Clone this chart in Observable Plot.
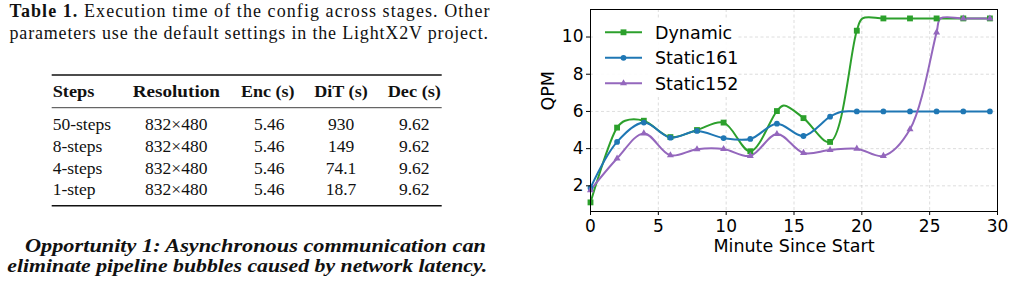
<!DOCTYPE html>
<html>
<head>
<meta charset="utf-8">
<script src="https://cdn.jsdelivr.net/npm/d3@7"></script>
<script src="https://cdn.jsdelivr.net/npm/@observablehq/plot@0.6"></script>
<style>
  html, body { margin: 0; padding: 0; background: #fff; }
  body { width: 1014px; height: 289px; position: relative; overflow: hidden; }
  #left { position: absolute; left: 0; top: 0; }
  #chart { position: absolute; left: 520px; top: 0; }
  #legend { position: absolute; left: 520px; top: 0; pointer-events: none; }
</style>
</head>
<body>
<div id="left"></div>
<div id="chart"></div>
<div id="legend"></div>
<script>
// ---- Table 1 text ----
const captionTitle = "Table 1.";
const captionLines = [
  "Execution time of the config across stages. Other",
  "parameters use the default settings in the LightX2V project."
];
const tableHeader = ["Steps", "Resolution", "Enc (s)", "DiT (s)", "Dec (s)"];
const stepsCol = ["50-steps", "8-steps", "4-steps", "1-step"];
const resolutionCol = ["832×480", "832×480", "832×480", "832×480"];
const encCol = ["5.46", "5.46", "5.46", "5.46"];
const ditCol = ["930", "149", "74.1", "18.7"];
const decCol = ["9.62", "9.62", "9.62", "9.62"];
const opportunityLines = [
  "Opportunity 1: Asynchronous communication can",
  "eliminate pipeline bubbles caused by network latency."
];

// ---- QPM over time (sampled minutes, one marker each) ----
const minutes = [0, 1.96, 3.93, 5.89, 7.85, 9.81, 11.78, 13.74, 15.70, 17.66, 19.63, 21.59, 23.55, 25.51, 27.48, 29.44];
const seriesNames = ["Dynamic", "Static161", "Static152"];
const seriesColors = ["#2ca02c", "#1f77b4", "#9467bd"];
const seriesSymbols = ["square", "circle", "triangle"];
const dynamicQPM   = [1.11, 5.13, 5.5, 4.62, 5.0, 5.4, 3.86, 6.02, 5.64, 4.36, 10.34, 11, 11, 11, 11, 11];
const static161QPM = [1.89, 4.36, 5.4, 4.59, 4.95, 4.57, 4.52, 5.34, 4.68, 5.72, 6, 6, 6, 6, 6, 6];
const static152QPM = [1.77, 3.47, 4.82, 3.64, 3.97, 3.98, 3.61, 4.79, 3.77, 3.93, 4.0, 3.61, 5.04, 10.25, 11, 11];
// extra unmarked readings along each trace: [minute, QPM]
const dynamicKnots   = [[2.55, 5.5], [14.25, 6.32], [20.05, 11]];
const static161Knots = [[18.5, 5.98]];
const static152Knots = [[25.8, 11]];

const xTicks = [0, 5, 10, 15, 20, 25, 30];
const yTicks = [2, 4, 6, 8, 10];
const xLabel = "Minute Since Start";
const yLabel = "QPM";

// ---------- left column: caption, table, paragraph ----------
const serif = "'Liberation Serif', 'DejaVu Serif', serif";
const left = d3.select("#left").append("svg")
  .attr("width", 520).attr("height", 289)
  .style("font-family", serif).style("fill", "#111");

// caption (justified lines)
const capY = [16.5, 39.3];
const cap0 = left.append("text").attr("x", 9.5).attr("y", capY[0])
  .attr("font-size", 18).attr("textLength", 480).attr("lengthAdjust", "spacing");
cap0.append("tspan").attr("font-weight", "bold").text(captionTitle);
cap0.append("tspan").text(" " + captionLines[0]);
left.append("text").attr("x", 9.5).attr("y", capY[1])
  .attr("font-size", 18).attr("textLength", 478.5).attr("lengthAdjust", "spacing")
  .text(captionLines[1]);

// booktabs-style rules
const ruleX0 = 51.7, ruleX1 = 441.7;
[[75, 1.4], [107.7, 0.8], [205.7, 1.4]].forEach(([y, w]) => {
  left.append("line").attr("x1", ruleX0).attr("x2", ruleX1)
    .attr("y1", y).attr("y2", y).attr("stroke", "#111").attr("stroke-width", w);
});

const colX = [52.7, 176.3, 267.8, 341, 414.3];
const colAnchor = ["start", "middle", "middle", "middle", "middle"];
const headerWidths = [41.7, 87.3, 53.6, 53.4, 53.3];
tableHeader.forEach((h, j) => {
  left.append("text").attr("x", colX[j]).attr("y", 97.3)
    .attr("text-anchor", colAnchor[j]).attr("font-weight", "bold")
    .attr("font-size", 17.5).attr("textLength", headerWidths[j])
    .attr("lengthAdjust", "spacingAndGlyphs").text(h);
});
const rowY = [130, 152, 173.7, 195.3];
const columns = [stepsCol, resolutionCol, encCol, ditCol, decCol];
rowY.forEach((y, i) => {
  columns.forEach((col, j) => {
    left.append("text").attr("x", colX[j] + (j === 2 ? 1.5 : 0)).attr("y", y)
      .attr("text-anchor", colAnchor[j]).attr("font-size", 17.5).text(col[i]);
  });
});

// emphasised paragraph
const oppX = [25, 7.3], oppY = [252.3, 271.7], oppW = [461, 480];
opportunityLines.forEach((t, i) => {
  left.append("text").attr("x", oppX[i]).attr("y", oppY[i])
    .attr("font-size", 18.5).attr("font-weight", "bold").attr("font-style", "italic")
    .attr("textLength", oppW[i]).attr("lengthAdjust", "spacingAndGlyphs").text(t);
});

// ---------- right column: QPM chart ----------
const seriesValues = [dynamicQPM, static161QPM, static152QPM];
const seriesKnots = [dynamicKnots, static161Knots, static152Knots];
const markerRadius = {square: 3.3, circle: 2.9, triangle: 2.6};
const markerRows = seriesNames.flatMap((name, s) =>
  seriesValues[s].map((q, i) => ({series: name, minute: minutes[i], qpm: q})));
const lineRows = seriesNames.flatMap((name, s) =>
  markerRows.filter(d => d.series === name)
    .concat(seriesKnots[s].map(([m, q]) => ({series: name, minute: m, qpm: q})))
    .sort((a, b) => a.minute - b.minute));

const gridStyle = {stroke: "#b0b0b0", strokeOpacity: 0.55, strokeWidth: 0.8, strokeDasharray: "3,2.5"};
const chart = Plot.plot({
  width: 494,
  height: 289,
  marginLeft: 70,
  marginRight: 17,
  marginTop: 9,
  marginBottom: 78,
  style: {fontFamily: "'DejaVu Sans', sans-serif", fontSize: "17px", color: "#000", background: "transparent", overflow: "visible"},
  x: {domain: [0, 30]},
  y: {domain: [0.62, 11.48]},
  color: {domain: seriesNames, range: seriesColors},
  symbol: {domain: seriesNames, range: seriesSymbols},
  marks: [
    Plot.gridX(xTicks.slice(1, -1), gridStyle),
    Plot.gridY(yTicks, gridStyle),
    Plot.line(lineRows, {x: "minute", y: "qpm", z: "series", stroke: "series", strokeWidth: 2, curve: "catmull-rom"}),
    ...seriesNames.map((name, s) =>
      Plot.dot(markerRows.filter(d => d.series === name), {
        x: "minute", y: "qpm", fill: "series", symbol: "series",
        r: markerRadius[seriesSymbols[s]], stroke: "none"
      })),
    Plot.frame({stroke: "#000", strokeWidth: 1}),
    Plot.axisX(xTicks, {tickSize: 4, tickPadding: 4.5, fontSize: 17, label: null}),
    Plot.axisY(yTicks, {tickSize: 4, tickPadding: 3, fontSize: 17, label: null}),
    Plot.text([xLabel], {text: d => d, frameAnchor: "bottom", dy: 40.7, lineAnchor: "bottom", fontSize: 17.5}),
    Plot.text([yLabel], {text: d => d, frameAnchor: "left", dx: -42, rotate: -90, fontSize: 17.5})
  ]
});
document.getElementById("chart").append(chart);

// legend drawn over the upper-left corner of the frame
const lg = d3.select("#legend").append("svg").attr("width", 494).attr("height", 120)
  .style("font-family", "'DejaVu Sans', sans-serif");
lg.append("rect").attr("x", 73).attr("y", 19).attr("width", 144).attr("height", 77)
  .attr("fill", "#fff").attr("fill-opacity", 0.9);
const symbolType = {square: d3.symbolSquare, circle: d3.symbolCircle, triangle: d3.symbolTriangle};
seriesNames.forEach((name, i) => {
  const y = 32.3 + i * 25.5;
  const r = markerRadius[seriesSymbols[i]];
  lg.append("line").attr("x1", 85).attr("x2", 122).attr("y1", y).attr("y2", y)
    .attr("stroke", seriesColors[i]).attr("stroke-width", 2);
  lg.append("path")
    .attr("d", d3.symbol(symbolType[seriesSymbols[i]], Math.PI * r * r)())
    .attr("transform", `translate(103.5,${y})`).attr("fill", seriesColors[i]);
  lg.append("text").attr("x", 135).attr("y", y + 6.5).attr("font-size", 17.5).text(name);
});
</script>
</body>
</html>
